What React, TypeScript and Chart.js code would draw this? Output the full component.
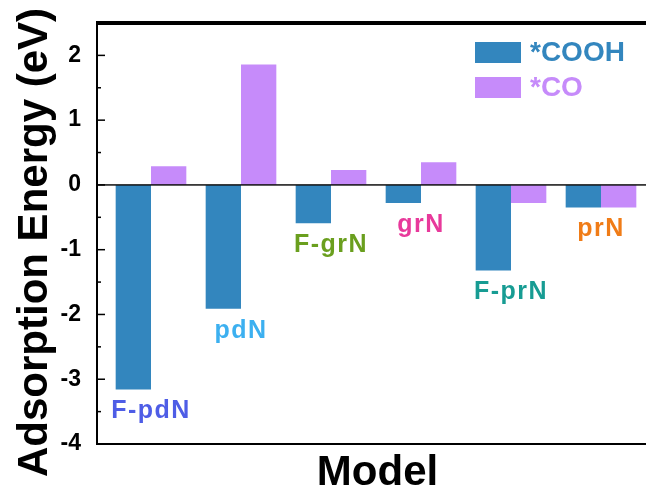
import React, { useEffect, useRef } from 'react';
import { Chart, registerables } from 'chart.js';

Chart.register(...registerables);

const models = ['F-pdN', 'pdN', 'F-grN', 'grN', 'F-prN', 'prN'];
const coohValues = [-3.16, -1.91, -0.59, -0.28, -1.32, -0.35];
const coValues = [0.29, 1.86, 0.23, 0.35, -0.28, -0.35];
const modelColors = ['#4e5de6', '#3cb0f0', '#6a9f1e', '#e8399b', '#179c93', '#f07c17'];
const seriesNames = ['*COOH', '*CO'];
const seriesColors = ['#3386be', '#c68bfa'];
const yTickValues = [-4, -3, -2, -1, 0, 1, 2];
const yMin = -4;
const yMax = 2.5;
const xTitle = 'Model';
const yTitle = 'Adsorption Energy (eV)';

const FONT = "'Liberation Sans', Arial, sans-serif";

const decorPlugin = {
  id: 'decor',
  afterDraw(chart: any) {
    const { ctx, chartArea: a, scales } = chart;
    const x = scales.x;
    const y = scales.y;
    ctx.save();
    // zero line
    const y0 = y.getPixelForValue(0);
    ctx.fillStyle = '#111111';
    ctx.fillRect(a.left, y0 - 0.75, a.right - a.left, 1.5);
    // frame: top, left, bottom
    ctx.fillStyle = '#000000';
    ctx.fillRect(Math.round(a.left) - 1, Math.round(a.top) - 2, Math.round(a.right - a.left) + 2, 4);
    ctx.fillRect(Math.round(a.left) - 1, Math.round(a.top) - 2, 2, Math.round(a.bottom - a.top) + 3);
    ctx.fillRect(Math.round(a.left) - 1, Math.round(a.bottom) - 1, Math.round(a.right - a.left) + 2, 2);
    // inward ticks (major + minor)
    for (let i = 0; i <= (yMax - yMin) * 2; i++) {
      const v = yMin + i * 0.5;
      const py = y.getPixelForValue(v);
      const len = Number.isInteger(v) ? 8 : 4;
      ctx.fillRect(a.left, py - 0.75, len, 1.5);
    }
    // model labels below each group
    ctx.font = `bold 25px ${FONT}`;
    (ctx as any).letterSpacing = '1.5px';
    ctx.textAlign = 'center';
    ctx.textBaseline = 'middle';
    models.forEach((m, i) => {
      const low = Math.min(coohValues[i], coValues[i], 0);
      const px = x.getPixelForValue(i);
      const py = y.getPixelForValue(low) + 22;
      ctx.fillStyle = modelColors[i];
      ctx.fillText(m, px, py);
    });
    (ctx as any).letterSpacing = '0px';
    // legend
    ctx.font = `bold 28px ${FONT}`;
    ctx.textAlign = 'left';
    seriesNames.forEach((name, i) => {
      const bx = a.left + 378;
      const by = a.top + 19 + i * 35;
      ctx.fillStyle = seriesColors[i];
      ctx.fillRect(bx, by, 46, 21);
      ctx.fillText(name, bx + 55, by + 11);
    });
    // axis titles
    ctx.fillStyle = '#000';
    ctx.font = `bold 42px ${FONT}`;
    ctx.textAlign = 'center';
    ctx.textBaseline = 'middle';
    ctx.fillText(xTitle, (a.left + a.right) / 2 + 6, a.bottom + 29);
    ctx.save();
    ctx.translate(47, (a.top + a.bottom) / 2 + 9);
    ctx.rotate(-Math.PI / 2);
    ctx.textBaseline = 'alphabetic';
    ctx.font = `bold 42px ${FONT}`;
    ctx.fillText(yTitle, 0, 0);
    ctx.restore();
    ctx.restore();
  },
};

export default function App() {
  const canvasRef = useRef<HTMLCanvasElement | null>(null);

  useEffect(() => {
    document.body.style.margin = '0';
    const canvas = canvasRef.current;
    if (!canvas) return;
    const chart = new Chart(canvas, {
      type: 'bar',
      data: {
        datasets: [
          {
            label: seriesNames[0],
            data: models.map((_, i) => ({ x: i, y: coohValues[i] })),
            backgroundColor: seriesColors[0],
          },
          {
            label: seriesNames[1],
            data: models.map((_, i) => ({ x: i, y: coValues[i] })),
            backgroundColor: seriesColors[1],
          },
        ],
      },
      options: {
        animation: false,
        responsive: false,
        devicePixelRatio: 1,
        layout: { padding: { top: 23, right: 0, left: 0, bottom: 0 } },
        datasets: {
          bar: { categoryPercentage: 0.785, barPercentage: 1 },
        },
        plugins: {
          legend: { display: false },
          tooltip: { enabled: false },
        },
        scales: {
          x: {
            type: 'linear',
            min: -0.6,
            max: 5.5,
            offset: false,
            grid: { display: false, drawTicks: false, offset: false },
            border: { display: false },
            ticks: { display: false },
            afterBuildTicks(scale: any) {
              scale.ticks = models.map((_, i) => ({ value: i }));
            },
            title: { display: false },
            afterFit(scale: any) {
              scale.height = 55;
              scale.paddingLeft = 0;
              scale.paddingRight = 0;
            },
          },
          y: {
            type: 'linear',
            min: yMin,
            max: yMax,
            grid: { display: false, drawTicks: false },
            border: { display: false },
            afterBuildTicks(scale: any) {
              scale.ticks = yTickValues.map((v) => ({ value: v }));
            },
            ticks: {
              color: '#000',
              padding: 16,
              font: { family: FONT, size: 23, weight: 'bold' },
              callback: (v: any) => String(v),
            },
            title: { display: false },
            afterFit(scale: any) {
              scale.width = 97;
              scale.paddingTop = 0;
              scale.paddingBottom = 0;
            },
          },
        },
      },
      plugins: [decorPlugin],
    } as any);
    return () => chart.destroy();
  }, []);

  return (
    <div style={{ width: 646, height: 499 }}>
      <canvas ref={canvasRef} width={646} height={499} style={{ display: 'block' }} />
    </div>
  );
}
